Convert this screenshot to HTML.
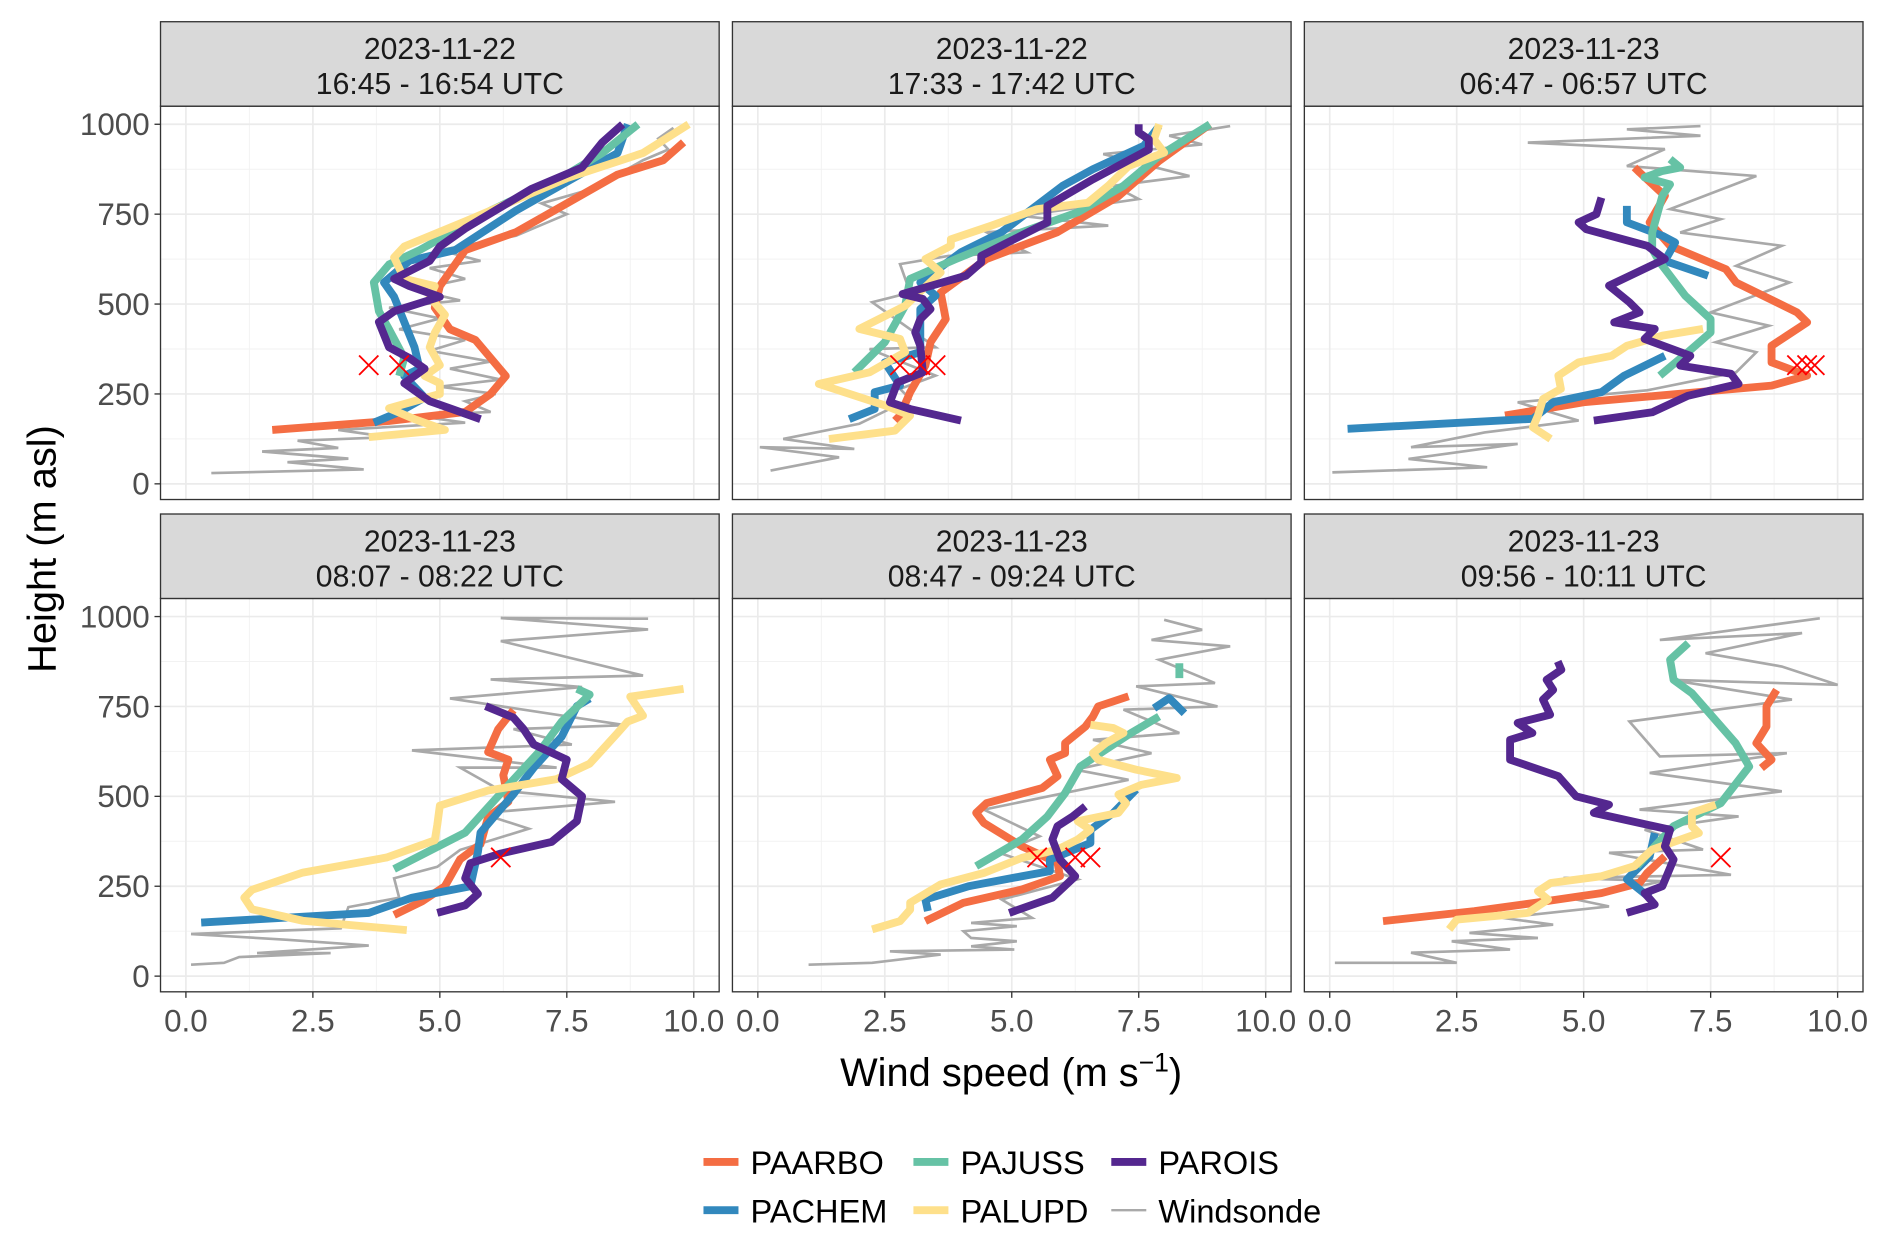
<!DOCTYPE html>
<html><head><meta charset="utf-8"><style>
html,body{margin:0;padding:0;background:#fff;}
svg{display:block;font-family:"Liberation Sans",Arial,sans-serif;}
</style></head><body>
<svg id="chart" width="1892" height="1247" viewBox="0 0 1568 1033.5" xmlns="http://www.w3.org/2000/svg">
<rect width="1568" height="1033.5" fill="#fff"/>
<g id="panels"></g>
<text transform="translate(46,455) rotate(-90)" text-anchor="middle" font-size="33" fill="#000">Height (m asl)</text>
<text x="838" y="900" text-anchor="middle" font-size="33" fill="#000">Wind speed (m s<tspan dy="-12" font-size="22">−1</tspan><tspan dy="12">)</tspan></text>
<g id="legend"></g>
</svg>
<script>
const panelTitles = [["2023-11-22","16:45 - 16:54 UTC"],["2023-11-22","17:33 - 17:42 UTC"],["2023-11-23","06:47 - 06:57 UTC"],["2023-11-23","08:07 - 08:22 UTC"],["2023-11-23","08:47 - 09:24 UTC"],["2023-11-23","09:56 - 10:11 UTC"]];
const seriesNames = ["PAARBO","PACHEM","PAJUSS","PALUPD","PAROIS"];
const seriesColors = ["#f46d43","#3288bd","#66c2a5","#fee08b","#54278f"];
const xTicks = [0,2.5,5,7.5,10];
const xTickLabels = ["0.0","2.5","5.0","7.5","10.0"];
const yTicks = [0,250,500,750,1000];
const yTickLabels = ["0","250","500","750","1000"];

// panel 1
const p1_PAARBO=[[1.7,150],[4,175],[5.5,200],[6,250],[6.3,300],[6,350],[5.7,400],[5.2,430],[4.9,490],[5,550],[5.5,650],[6.5,700],[7.5,780],[8.5,860],[9.4,900],[9.8,950]];
const p1_PACHEM=[[3.7,170],[4.2,200],[4.7,240],[4.3,300],[4.6,320],[4.5,380],[4.3,450],[4.1,520],[3.9,560],[4.4,620],[5.3,650],[6.5,760],[8,880],[8.5,920],[8.7,1000]];
const p1_PAJUSS=[[4.2,300],[4.3,350],[4,430],[3.8,480],[3.7,560],[4,610],[4.6,650],[6,760],[7.5,860],[8.2,920],[8.9,1000]];
const p1_PALUPD=[[3.6,130],[5.1,150],[4.5,180],[4,210],[5,250],[5,280],[4.7,300],[5,330],[4.8,380],[4.9,420],[5.1,470],[4.8,520],[4.9,550],[4.3,570],[4.1,630],[4.3,660],[5.5,730],[7.5,850],[9,920],[9.9,1000]];
const p1_PAROIS=[[5.8,180],[5.2,210],[4.8,230],[4.3,280],[4.7,320],[4.4,350],[4,380],[3.8,450],[4.1,480],[5,520],[4.4,550],[4.1,570],[4.8,620],[5,660],[5.5,710],[6.8,820],[7.8,880],[8.2,950],[8.6,1000]];
const p1_sonde=[[0.5,30],[3.5,40],[2,60],[3.2,70],[1.5,90],[3,100],[2.2,120],[4,130],[3,150],[5.5,170],[4.5,190],[6,200],[5.5,230],[6.1,250],[5,270],[6.2,290],[5.2,320],[6,340],[4.8,370],[5.5,400],[4.2,430],[5,460],[4,490],[5.4,510],[4.5,540],[5.5,570],[4.8,600],[5.8,620],[5,650],[6.5,690],[7.5,750],[7,780],[8,820],[8.5,860],[9,900],[9.5,930],[9.3,960],[9.6,990]];
const p1_marks=[[3.6,330],[4.2,330]];
// panel 2
const p2_PAARBO=[[2.7,176],[2.8,190],[3.0,255],[3.3,329],[3.4,394],[3.7,458],[3.6,532],[4.5,625],[5.9,700],[7.1,800],[7.9,898],[8.9,1000]];
const p2_PACHEM=[[1.8,180],[2.3,208],[2.3,255],[2.8,273],[2.5,338],[3.2,366],[3.2,486],[3.5,523],[3.2,560],[4,644],[4.8,700],[6.0,829],[6.6,875],[7.6,940],[7.9,995]];
const p2_PAJUSS=[[1.9,310],[2.5,394],[2.9,495],[3.0,570],[3.9,625],[5.2,700],[6.3,755],[7.2,829],[7.9,912],[8.9,1000]];
const p2_PALUPD=[[1.4,125],[2.7,148],[3.0,190],[2.5,218],[1.2,278],[2.2,310],[2.9,366],[2.8,403],[2.0,431],[2.9,495],[3.6,588],[3.3,625],[3.8,662],[3.8,680],[4.6,718],[5.5,764],[6.5,782],[6.9,829],[7.3,884],[8.0,921],[7.8,958],[7.9,1000]];
const p2_PAROIS=[[4.0,176],[3.0,208],[2.6,227],[2.75,282],[3.25,310],[3.2,384],[3.1,421],[3.2,458],[3.4,486],[3.25,514],[2.85,528],[4.1,579],[4.4,616],[4.4,634],[5.7,727],[5.7,773],[6.6,847],[7.7,930],[7.7,958],[7.5,977],[7.5,1000]];
const p2_sonde=[[0.25,37],[1.6,74],[0.04,102],[1.9,97],[0.5,125],[2,167],[3.0,236],[2.8,264],[3.5,301],[2.2,375],[3.5,380],[2.25,505],[3,532],[2.8,611],[3.75,634],[5.3,644],[4.5,700],[6.9,718],[5.2,745],[7.5,792],[7,829],[8.5,856],[6.8,917],[8.75,944],[8.1,968],[9.3,995]];
const p2_marks=[[2.8,330],[3.2,330],[3.5,330]];
// panel 3
const p3_PAARBO=[[3.45,190],[5.0,227],[8.7,273],[9.4,301],[8.7,338],[8.7,384],[9.0,412],[9.4,449],[9.2,477],[8.0,560],[7.8,597],[6.7,662],[6.3,727],[6.6,801],[6.1,866],[6.0,880]];
const p3_PACHEM=[[0.35,153],[4.0,181],[4.4,227],[5.35,255],[5.8,301],[6.6,356],null,[7.45,579],[6.6,620],[6.8,671],[6.55,690],[5.85,727],[5.85,773]];
const p3_PAJUSS=[[6.5,301],[7.05,366],[7.5,421],[7.5,458],[7.0,523],[6.7,579],[6.5,616],[6.35,653],[6.35,699],[6.55,801],[6.7,833],[6.2,852],[6.55,870],[6.9,880],[6.7,903]];
const p3_PALUPD=[[4.35,125],[4.0,157],[4.1,190],[4.2,236],[4.55,264],[4.5,301],[4.9,338],[5.55,356],[5.85,384],[6.55,412],[7.35,431]];
const p3_PAROIS=[[5.2,176],[6.35,199],[7.05,245],[8.05,278],[7.9,306],[6.9,329],[7.1,356],[6.2,403],[6.4,431],[5.6,449],[6.1,477],[5.9,505],[5.5,551],[6.6,625],[6.25,662],[5.05,708],[4.9,727],[5.25,750],[5.35,796]];
const p3_sonde=[[0.05,32],[3.1,46],[1.55,69],[3.7,111],[1.6,102],[3.05,143],[4.9,176],[3.7,227],[6.25,260],[8.0,310],[8.4,366],[7.6,394],[8.65,440],[7.5,477],[9.05,560],[8.0,606],[8.9,662],[6.9,699],[7.7,736],[6.7,764],[8.4,856],[5.85,884],[6.6,931],[3.9,949],[7.3,968],[5.85,986],[7.3,995]];
const p3_marks=[[9.2,330],[9.4,330],[9.55,330]];
// panel 4
const p4_PAARBO=[[4.1,170],[4.65,208],[5.1,250],[5.4,325],[5.8,367],[5.95,442],[6.35,485],[6.25,559],[6.35,602],[5.95,623],[6.15,687],[6.45,740]];
const p4_PACHEM=[[0.3,149],[3.6,176],[4.45,218],[5.6,250],[5.75,346],[5.8,399],[6.45,506],[6.85,580],[7.4,666],[7.7,751],[7.95,772]];
const p4_PAJUSS=[[4.1,298],[5.5,399],[6.25,516],[6.95,623],[7.4,708],[7.95,783],[7.7,799]];
const p4_PALUPD=[[4.35,128],[2.3,154],[1.3,186],[1.15,218],[1.3,240],[2.3,288],[3.95,330],[4.9,378],[4.95,421],[5.0,474],[5.95,516],[7.3,548],[7.95,591],[8.5,676],[8.7,708],[9.0,724],[8.75,777],[9.8,799]];
const p4_PAROIS=[[4.95,176],[5.5,197],[5.75,229],[5.5,272],[5.6,314],[6.2,341],[7.2,373],[7.7,431],[7.8,500],[7.4,548],[7.5,602],[6.85,644],[6.65,687],[6.45,719],[5.9,751]];
const p4_sonde=[[0.1,32],[0.75,37],[1.05,53],[2.85,64],[1.4,64],[3.6,85],[2.0,101],[0.1,117],[3.05,133],[3.2,192],[4.2,218],[4.1,272],[4.95,304],[5.4,351],[6.75,410],[5.8,453],[8.45,485],[6.2,516],[5.4,580],[7.3,580],[4.45,628],[7.6,644],[6.45,687],[8.65,698],[5.2,772],[7.8,804],[6.0,825],[9.0,836],[6.2,932],[9.1,964],[6.2,996],[9.1,994]];
const p4_marks=[[6.2,330]];
// panel 5
const p5_PAARBO=[[3.3,153],[4.05,204],[5.2,241],[5.95,278],[5.9,315],[5.2,361],[4.45,426],[4.3,454],[4.5,481],[5.6,523],[5.9,556],[5.75,602],[6.05,620],[6.05,648],[6.45,694],[6.6,722],[6.7,750],[7.3,778]];
const p5_PACHEM=[[3.35,181],[3.3,213],[4.15,250],[5.2,278],[5.75,292],[5.75,324],[6.55,370],[6.55,407],[7.0,454],[7.45,519],null,[7.8,745],[8.1,773],[8.4,731]];
const p5_PAJUSS=[[4.3,306],[5.2,380],[5.7,444],[6.05,509],[6.35,583],[6.85,630],[7.35,676],[7.9,722],null,[8.3,829],[8.3,870]];
const p5_PALUPD=[[2.25,130],[2.8,153],[3.0,185],[3.0,204],[3.6,255],[4.45,287],[5.2,329],[5.9,352],[6.3,380],[6.55,407],[6.3,431],[7.1,454],[7.25,481],[7.1,505],[7.55,532],[8.25,551],[7.45,574],[6.7,602],[6.6,620],[6.85,648],[7.2,676],[7.0,690],[6.55,699]];
const p5_PAROIS=[[4.95,176],[5.8,218],[6.25,278],[5.95,324],[5.8,380],[5.9,417],[6.2,444],[6.45,472]];
const p5_sonde=[[1.0,32],[2.25,37],[3.6,60],[2.6,69],[5.05,74],[4.2,83],[5.1,97],[4.2,106],[4.05,125],[5.1,139],[4.2,148],[5.4,162],[4.8,213],[6.3,269],[4.75,343],[5.55,389],[4.45,463],[7.3,546],[6.25,574],[7.75,620],[6.6,657],[8.3,676],[7.2,741],[9.05,750],[7.45,806],[9.0,815],[7.9,880],[9.3,917],[7.75,935],[8.75,963],[8.0,991]];
const p5_marks=[[5.5,330],[6.25,330],[6.55,330]];
// panel 6
const p6_PAARBO=[[1.05,153],[2.85,181],[4.05,204],[5.35,231],[6.1,259],[6.25,287],[6.6,333],null,[8.5,579],[8.7,602],[8.4,648],[8.6,694],[8.6,750],[8.8,796]];
const p6_PACHEM=[[6.3,218],[5.85,269],[6.3,333],[6.4,398]];
const p6_PAJUSS=[[6.05,306],[6.4,361],[6.77,417],[7.7,481],[8.26,583],[7.99,648],[7.13,787],[6.77,824],[6.7,880],[7.06,926]];
const p6_PALUPD=[[2.35,130],[2.5,157],[3.9,176],[4.3,213],[4.1,236],[4.35,259],[5.35,278],[6.0,306],[6.35,352],[7.27,398],[7.13,417],[7.13,454],[7.6,477]];
const p6_PAROIS=[[5.85,176],[6.4,199],[6.2,231],[6.55,250],[6.77,324],[6.6,361],[6.7,407],[5.2,454],[5.5,477],[4.85,500],[4.5,556],[3.55,602],[3.55,657],[3.99,676],[3.7,704],[4.34,727],[4.2,769],[4.4,796],[4.27,824],[4.56,852],[4.49,875]];
const p6_sonde=[[0.1,37],[2.5,37],[1.6,65],[3.55,74],[2.4,97],[4.1,106],[2.75,120],[4.4,143],[3.4,162],[5.5,194],[4.85,213],[6.55,264],[4.6,273],[7.9,282],[5.5,343],[7.35,352],[6.2,407],[8.05,444],[6.1,463],[8.9,514],[6.3,565],[9.0,620],[6.5,611],[5.9,708],[9.1,769],[6.7,824],[10.0,810],[8.9,861],[7.4,898],[9.3,954],[6.5,935],[9.65,995]];
const p6_marks=[[7.7,330]];

const panelSeries=[[p1_PAARBO,p1_PACHEM,p1_PAJUSS,p1_PALUPD,p1_PAROIS],[p2_PAARBO,p2_PACHEM,p2_PAJUSS,p2_PALUPD,p2_PAROIS],[p3_PAARBO,p3_PACHEM,p3_PAJUSS,p3_PALUPD,p3_PAROIS],[p4_PAARBO,p4_PACHEM,p4_PAJUSS,p4_PALUPD,p4_PAROIS],[p5_PAARBO,p5_PACHEM,p5_PAJUSS,p5_PALUPD,p5_PAROIS],[p6_PAARBO,p6_PACHEM,p6_PAJUSS,p6_PALUPD,p6_PAROIS]];
const panelSonde=[p1_sonde,p2_sonde,p3_sonde,p4_sonde,p5_sonde,p6_sonde];
const panelMarks=[p1_marks,p2_marks,p3_marks,p4_marks,p5_marks,p6_marks];

const NS="http://www.w3.org/2000/svg";
const colLeft=[133,607,1081], rowTop=[88,496], PW=463, PH=326, STRIP=70;
const XMIN=-0.5,XMAX=10.5,YMIN=-43.6,YMAX=1050.3;
function xs(v,c){return colLeft[c]+(v-XMIN)/(XMAX-XMIN)*PW;}
function ys(h,r){return rowTop[r]+(YMAX-h)/(YMAX-YMIN)*PH;}
function mk(tag,attrs,parent){const e=document.createElementNS(NS,tag);for(const k in attrs)e.setAttribute(k,attrs[k]);parent.appendChild(e);return e;}
function pathD(pts,c,r){let d="",pen=false;for(const p of pts){if(p===null){pen=false;continue;}d+=(pen?"L":"M")+xs(p[0],c).toFixed(1)+","+ys(p[1],r).toFixed(1);pen=true;}return d;}
const root=document.getElementById("panels");
for(let i=0;i<6;i++){
  const c=i%3,r=Math.floor(i/3),L=colLeft[c],T=rowTop[r];
  const g=mk("g",{},root);
  
  
  const clipId="clip"+i;
  const cp=mk("clipPath",{id:clipId},g);mk("rect",{x:L,y:T,width:PW,height:PH},cp);
  mk("rect",{x:L,y:T,width:PW,height:PH,fill:"#fff"},g);
  for(let k=0;k<xTicks.length;k++){
    const mv=xTicks[k]+1.25; if(mv<=10.5) mk("line",{x1:xs(mv,c),x2:xs(mv,c),y1:T,y2:T+PH,stroke:"#f2f2f2","stroke-width":0.8},g);
    const yv=yTicks[k]+125; if(yv<1050) mk("line",{x1:L,x2:L+PW,y1:ys(yv,r),y2:ys(yv,r),stroke:"#f2f2f2","stroke-width":0.8},g);
  }
  for(let k=0;k<xTicks.length;k++){
    mk("line",{x1:xs(xTicks[k],c),x2:xs(xTicks[k],c),y1:T,y2:T+PH,stroke:"#ebebeb","stroke-width":1.4},g);
    mk("line",{x1:L,x2:L+PW,y1:ys(yTicks[k],r),y2:ys(yTicks[k],r),stroke:"#ebebeb","stroke-width":1.4},g);
  }
  const data=mk("g",{"clip-path":"url(#"+clipId+")"},g);
  const sp=mk("path",{d:pathD(panelSonde[i],c,r),fill:"none",stroke:"#a9a9a9","stroke-width":2.2,"stroke-linejoin":"miter"},data);
  
  
  for(let s=0;s<5;s++){
    const p=mk("path",{d:pathD(panelSeries[i][s],c,r),fill:"none",stroke:seriesColors[s],"stroke-width":6.5,"stroke-linejoin":"round"},data);
    
    
  }
  for(const m of panelMarks[i]){
    const x=xs(m[0],c),y=ys(m[1],r),d=8;
    const mm=mk("path",{d:`M${x-d},${y-d}L${x+d},${y+d}M${x-d},${y+d}L${x+d},${y-d}`,stroke:"#ff0000","stroke-width":1.5,fill:"none"},data);
    
    
  }
  mk("rect",{x:L,y:T,width:PW,height:PH,fill:"none",stroke:"#333","stroke-width":1.1},g);
  const st=mk("rect",{x:L,y:T-STRIP,width:PW,height:STRIP,fill:"#d9d9d9",stroke:"#333","stroke-width":1.1},g);
  
  
  for(let l=0;l<2;l++){
    const t=mk("text",{x:L+PW/2,y:T-STRIP+31+l*29,"text-anchor":"middle","font-size":25,fill:"#1a1a1a"},g);
    t.textContent=panelTitles[i][l];
    
    
  }
  if(c===0){
    for(let k=0;k<yTicks.length;k++){
      const y=ys(yTicks[k],r);
      mk("line",{x1:L-5,x2:L,y1:y,y2:y,stroke:"#333","stroke-width":1.1},g);
      const t=mk("text",{x:L-9,y:y+9,"text-anchor":"end","font-size":26,fill:"#4d4d4d"},g);
      t.textContent=yTickLabels[k];
      
      
    }
  }
  if(r===1){
    for(let k=0;k<xTicks.length;k++){
      const x=xs(xTicks[k],c);
      mk("line",{x1:x,x2:x,y1:T+PH,y2:T+PH+5,stroke:"#333","stroke-width":1.1},g);
      const t=mk("text",{x:x,y:T+PH+33,"text-anchor":"middle","font-size":26,fill:"#4d4d4d"},g);
      t.textContent=xTickLabels[k];
      
      
    }
  }
}
const lg=document.getElementById("legend");
const legendNames=["PAARBO","PAJUSS","PAROIS","PACHEM","PALUPD","Windsonde"];
const legendColors=["#f46d43","#66c2a5","#54278f","#3288bd","#fee08b","#a9a9a9"];
const keyX=[583,757,921], rowY=[963,1003];
for(let k=0;k<6;k++){
  const c=k%3,r=Math.floor(k/3);
  const e=mk("g",{},lg);
  
  
  mk("line",{x1:keyX[c],x2:keyX[c]+29,y1:rowY[r],y2:rowY[r],stroke:legendColors[k],"stroke-width":k===5?2:6.5},e);
  const t=mk("text",{x:keyX[c]+39,y:rowY[r]+10,"font-size":27,fill:"#000"},e);
  t.textContent=legendNames[k];
}
</script>
</body></html>
